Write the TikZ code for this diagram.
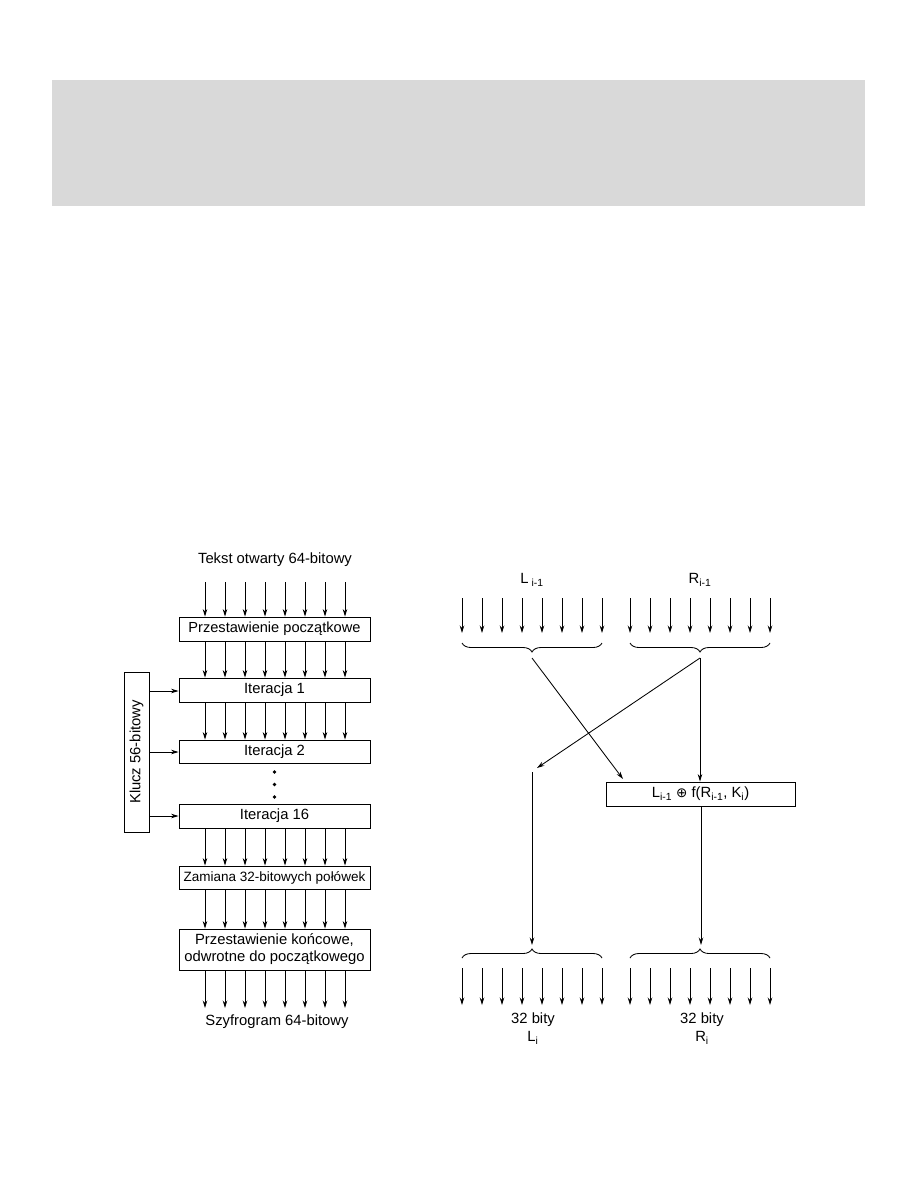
\documentclass[tikz,border=0pt]{standalone}
\usepackage{fontspec}
\setmainfont{Liberation Sans}
\newfontfamily\dejavu{DejaVu Sans}
\usetikzlibrary{arrows.meta,decorations.pathreplacing}
\begin{document}
\begin{tikzpicture}[x=1pt,y=-1pt,
  font=\fontsize{14.8}{17}\selectfont,
  line width=0.85pt,
  arr/.style={-{Stealth[length=7.5pt,width=4.5pt]}},
  box/.style={draw,rectangle,inner sep=0pt,minimum width=191pt,align=center},
  brc/.style={decorate,decoration={brace,amplitude=9pt}},
  lbl/.style={inner sep=0pt,anchor=center}]
\useasboundingbox (0,0) rectangle (918,1188);
\fill[color={rgb,255:red,217;green,217;blue,217}] (52,80) rectangle (865,206);

% ---------- left diagram ----------
\node[lbl] (tin) at (275,560) {Tekst otwarty 64-bitowy};
\node[box,minimum height=24pt] (p) at (274.5,629) {\fontsize{14.6}{17}\selectfont Przestawienie początkowe};
\node[box,minimum height=24pt] (i1) at (274.5,690) {Iteracja 1};
\node[box,minimum height=23pt] (i2) at (274.5,751.5) {Iteracja 2};
\node[box,minimum height=24pt] (i16) at (274.5,816) {Iteracja 16};
\node[box,minimum height=23pt] (z) at (274.5,877.5) {\fontsize{13.5}{16}\selectfont Zamiana 32-bitowych połówek};
\node[box,minimum height=41pt] (f) at (274.5,949.5) {Przestawienie końcowe,\\odwrotne do początkowego};
\node[lbl] (tout) at (277,1022) {Szyfrogram 64-bitowy};
\coordinate (tin0) at (275,582);
\coordinate (tout0) at (275,1008);

\foreach \x in {205,225,245,265,285,305,325,345}{
  \draw[arr] (tin0 -| \x,0) -- (p.north -| \x,0);
  \draw[arr] (p.south -| \x,0) -- (i1.north -| \x,0);
  \draw[arr] (i1.south -| \x,0) -- (i2.north -| \x,0);
  \draw[arr] (i16.south -| \x,0) -- (z.north -| \x,0);
  \draw[arr] (z.south -| \x,0) -- (f.north -| \x,0);
  \draw[arr] (f.south -| \x,0) -- (tout0 -| \x,0);
}
\foreach \y [count=\i] in {772,784.5,797}{
  \fill (274.5,\y) circle (1.8pt) coordinate (dot\i);
}

\node[draw,rectangle,inner sep=0pt,minimum width=25pt,minimum height=160pt] (key) at (136.5,752) {};
\node[lbl,rotate=90] (keyt) at (key.center) {Klucz 56-bitowy};
\draw[arr] (key.east |- 0,691) -- (i1.west |- 0,691);
\draw[arr] (key.east |- 0,752) -- (i2.west |- 0,752);
\draw[arr] (key.east |- 0,816) -- (i16.west |- 0,816);

% ---------- right diagram ----------
\node[lbl] (lin) at (532,580) {L\textsubscript{ i-1}};
\node[lbl] (rin) at (700,580) {R\textsubscript{i-1}};
\foreach \k in {0,...,7}{
  \draw[arr] (462+20*\k,598) -- (462+20*\k,633);
  \draw[arr] (630+20*\k,598) -- (630+20*\k,633);
  \draw[arr] (462+20*\k,968) -- (462+20*\k,1005);
  \draw[arr] (630+20*\k,968) -- (630+20*\k,1005);
}
% upper braces (tip down)
\draw[brc] (602,643) -- (462,643);
\draw[brc] (770,643) -- (630,643);
\coordinate (lt) at (532,658);
\coordinate (rt) at (700,658);
% lower braces (tip up)
\draw[brc] (462,958) -- (602,958);
\draw[brc] (630,958) -- (770,958);
\coordinate (lb) at (532,945);
\coordinate (rb) at (701,945);

\node[box,minimum width=189pt,minimum height=24pt] (fx) at (700.5,794)
  {L\textsubscript{i-1} {\dejavu\fontsize{13.5}{15}\selectfont ⊕} f(R\textsubscript{i-1}, K\textsubscript{i})};
\coordinate (la) at (537,768);
\coordinate (lv) at (532,772);

\draw[arr] (lt) -- (623,779);
\draw[arr] (rt) -- (la);
\draw[arr] (rt) -- (rt |- fx.north);
\draw[arr] (lv) -- (lb);
\draw[arr] (fx.south -| rb) -- (rb);

\node[lbl] (l32) at (533,1020) {32 bity};
\node[lbl] (li) at (533,1038) {L\textsubscript{i}};
\node[lbl] (r32) at (702,1020) {32 bity};
\node[lbl] (ri) at (702,1038) {R\textsubscript{i}};
\end{tikzpicture}
\end{document}
